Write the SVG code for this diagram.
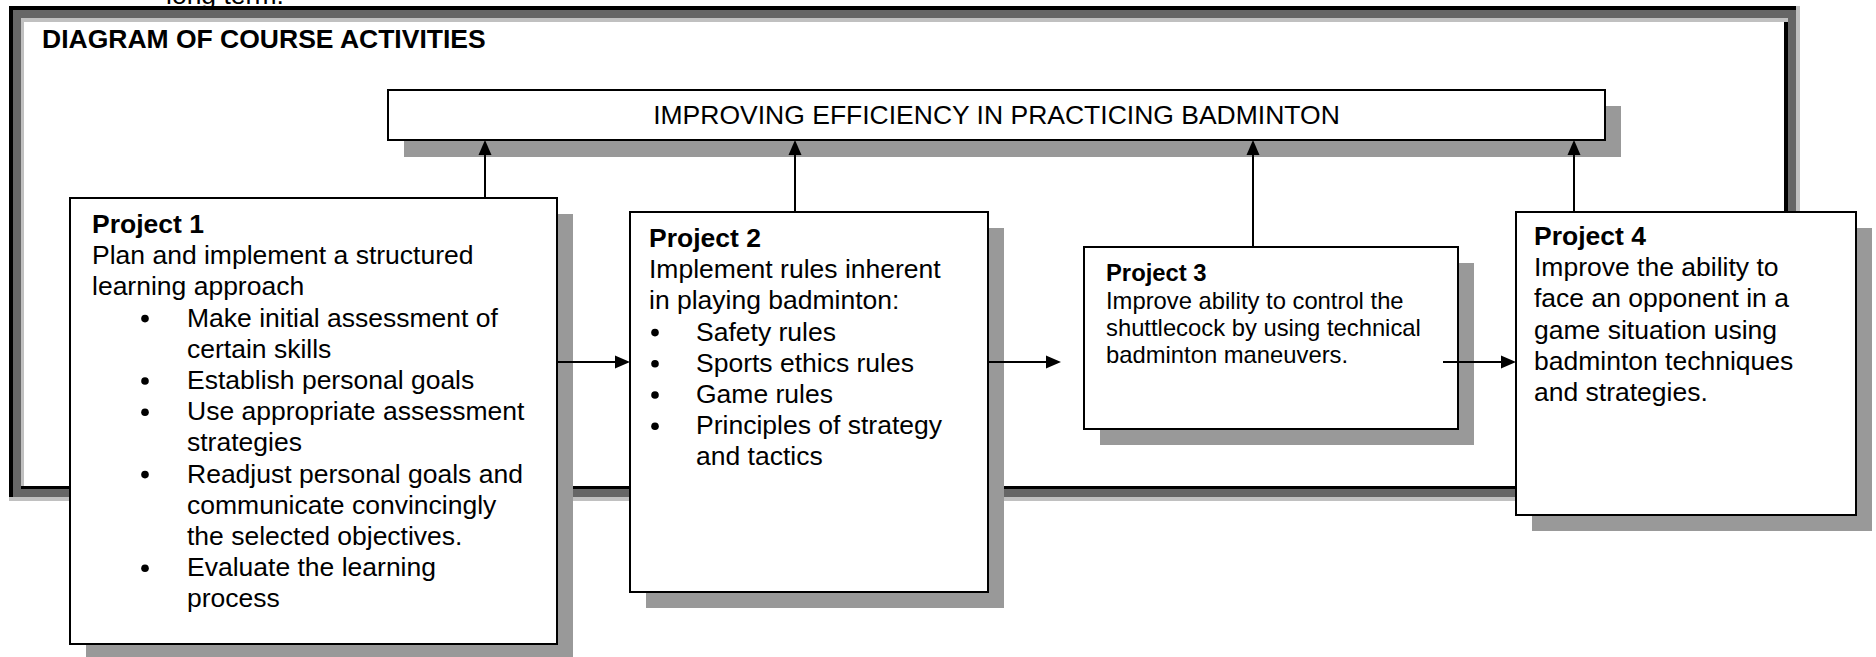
<svg xmlns="http://www.w3.org/2000/svg" width="1876" height="657" viewBox="0 0 1876 657">
<defs>
<marker id="ah" markerUnits="userSpaceOnUse" markerWidth="16" markerHeight="14" refX="10" refY="7" orient="auto"><path d="M0,0.5 L15,7 L0,13.5 z" fill="#000"/></marker>
</defs>
<style>
text{font-family:"Liberation Sans",Arial,sans-serif;font-size:26.5px;fill:#000}
.b{font-weight:bold}
.s{font-size:23.8px}
.box{fill:#fff;stroke:#000;stroke-width:2}
.sh{fill:#999}
.c line{stroke:#000;stroke-width:2;marker-end:url(#ah)}
.bul{fill:#000}
</style>
<rect width="1876" height="657" fill="#fff"/>
<text x="166" y="4">long term.</text>
<g id="frame">
<rect x="9" y="6" width="1791" height="495" fill="#666"/>
<path d="M9,6 H1796 V10 H13 V497 H9 Z" fill="#000"/>
<path d="M1796,6 H1800 V501 H9 V497 H1796 Z" fill="#c0c0c0"/>
<path d="M21,18 H1788 V22 H24 V486 H21 Z" fill="#c0c0c0"/>
<path d="M1784,22 H1788 V489 H21 V486 H1784 Z" fill="#000"/>
<rect x="24" y="22" width="1760" height="464" fill="#fff"/>
<text class="b" x="42" y="48">DIAGRAM OF COURSE ACTIVITIES</text>
</g>
<g id="goal">
<rect class="sh" x="404" y="106" width="1217" height="51"/>
<rect class="box" x="388" y="90" width="1217" height="50"/>
<text x="996.5" y="124" text-anchor="middle">IMPROVING EFFICIENCY IN PRACTICING BADMINTON</text>
</g>
<g id="p1">
<rect class="sh" x="86" y="214" width="487" height="446"/>
<rect class="box" x="70" y="198" width="487" height="446"/>
<text class="b" x="92" y="233">Project 1</text>
<text x="92" y="264.2">Plan and implement a structured</text>
<text x="92" y="295.4">learning approach</text>
<circle class="bul" cx="145" cy="318.6" r="3.8"/>
<text x="187" y="326.6">Make initial assessment of</text>
<text x="187" y="357.8">certain skills</text>
<circle class="bul" cx="145" cy="381" r="3.8"/>
<text x="187" y="389">Establish personal goals</text>
<circle class="bul" cx="145" cy="412.2" r="3.8"/>
<text x="187" y="420.2">Use appropriate assessment</text>
<text x="187" y="451.4">strategies</text>
<circle class="bul" cx="145" cy="474.6" r="3.8"/>
<text x="187" y="482.6">Readjust personal goals and</text>
<text x="187" y="513.8">communicate convincingly</text>
<text x="187" y="545">the selected objectives.</text>
<circle class="bul" cx="145" cy="568.2" r="3.8"/>
<text x="187" y="576.2">Evaluate the learning</text>
<text x="187" y="607.4">process</text>
</g>
<g id="p2">
<rect class="sh" x="646" y="228" width="358" height="380"/>
<rect class="box" x="630" y="212" width="358" height="380"/>
<text class="b" x="649" y="247">Project 2</text>
<text x="649" y="278.2">Implement rules inherent</text>
<text x="649" y="309.4">in playing badminton:</text>
<circle class="bul" cx="655" cy="332.6" r="3.8"/>
<text x="696" y="340.6">Safety rules</text>
<circle class="bul" cx="655" cy="363.8" r="3.8"/>
<text x="696" y="371.8">Sports ethics rules</text>
<circle class="bul" cx="655" cy="395" r="3.8"/>
<text x="696" y="403">Game rules</text>
<circle class="bul" cx="655" cy="426.2" r="3.8"/>
<text x="696" y="434.2">Principles of strategy</text>
<text x="696" y="465.4">and tactics</text>
</g>
<g id="p3">
<rect class="sh" x="1100" y="263" width="374" height="182"/>
<rect class="box" x="1084" y="247" width="374" height="182"/>
<text class="b s" x="1106" y="281">Project 3</text>
<text class="s" x="1106" y="309">Improve ability to control the</text>
<text class="s" x="1106" y="336">shuttlecock by using technical</text>
<text class="s" x="1106" y="363">badminton maneuvers.</text>
</g>
<g id="p4">
<rect class="sh" x="1532" y="228" width="340" height="303"/>
<rect class="box" x="1516" y="212" width="340" height="303"/>
<text class="b" x="1534" y="245">Project 4</text>
<text x="1534" y="276.2">Improve the ability to</text>
<text x="1534" y="307.4">face an opponent in a</text>
<text x="1534" y="338.6">game situation using</text>
<text x="1534" y="369.8">badminton techniques</text>
<text x="1534" y="401">and strategies.</text>
</g>
<g id="connectors" class="c">
<line x1="485" y1="198" x2="485" y2="145"/>
<line x1="795" y1="212" x2="795" y2="145"/>
<line x1="1253" y1="247" x2="1253" y2="145"/>
<line x1="1574" y1="212" x2="1574" y2="145"/>
<line x1="557" y1="362" x2="625" y2="362"/>
<line x1="988" y1="362" x2="1056" y2="362"/>
<line x1="1443" y1="362" x2="1511" y2="362"/>
</g>
</svg>
